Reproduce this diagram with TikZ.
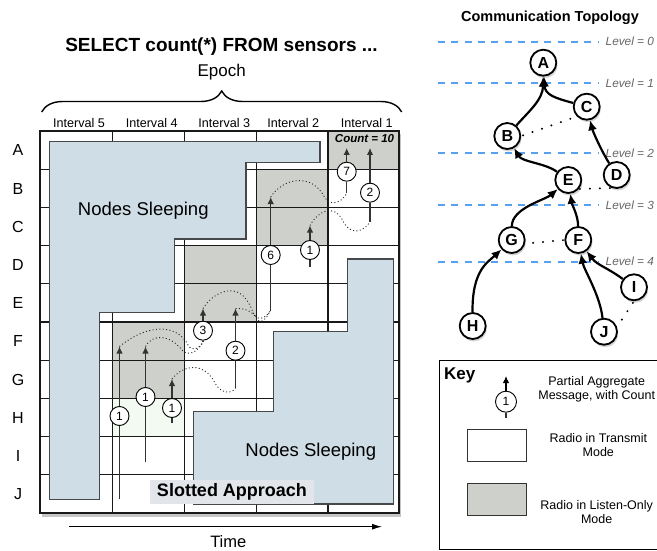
\documentclass[tikz,border=0pt]{standalone}
\usepackage{fontspec}
\setmainfont{Liberation Sans}
\usepackage{tikz}
\usetikzlibrary{arrows.meta, positioning, calc, decorations.pathreplacing, shadows}
\definecolor{sleepblue}{RGB}{207,221,231}
\definecolor{listengray}{RGB}{205,208,203}
\definecolor{txtint}{RGB}{243,250,242}
\definecolor{levelblue}{RGB}{88,160,240}
\definecolor{zoneedge}{RGB}{70,72,76}
\definecolor{slotbg}{RGB}{226,230,234}
\newcommand{\pxfont}[1]{\fontsize{#1}{#1}\selectfont}
\tikzset{
  cellline/.style={line width=1.2pt, color=black!90},
  sleepzone/.style={fill=sleepblue, draw=zoneedge, line width=1.1pt},
  listencell/.style={fill=listengray},
  msgcirc/.style={circle, draw=black, fill=white, line width=0.9pt,
    minimum size=19pt, inner sep=0pt, font=\pxfont{12}},
  msgarrow/.style={-{Latex[length=7pt, width=6.5pt]}, line width=1.1pt, color=black!80},
  msgline/.style={line width=1.1pt, color=black!80},
  hop/.style={dash pattern=on 1pt off 2.4pt, line width=0.9pt, color=black!85},
  treenode/.style={circle, draw=black, fill=white, line width=1.8pt,
    minimum size=26pt, inner sep=0pt, font=\pxfont{16}\bfseries,
    drop shadow={shadow xshift=1.2pt, shadow yshift=-2.5pt, opacity=0.35}},
  treeedge/.style={-{Latex[length=10pt, width=9pt]}, line width=2.2pt},
  sibling/.style={line width=2.2pt, dash pattern=on 0pt off 10pt, line cap=round},
  levelline/.style={levelblue, line width=2.2pt, dash pattern=on 7pt off 6.3pt},
  levellabel/.style={anchor=base west, font=\pxfont{11.8}\itshape, text=black!60, inner sep=0pt},
  intlabel/.style={anchor=base, font=\pxfont{12.6}, inner sep=0pt},
  rowlabel/.style={anchor=base, font=\pxfont{16}, inner sep=0pt},
  keytext/.style={align=center, font=\fontsize{12.5}{14}\selectfont, inner sep=0pt},
  keybox/.style={draw=black!80, line width=0.9pt, minimum width=58.7pt,
    minimum height=31.7pt, inner sep=0pt}
}

\begin{document}
\begin{tikzpicture}[x=1pt, y=-1pt]
  \useasboundingbox (0,0) rectangle (657,551);

  % Query, epoch and intervals
  \node[anchor=base, font=\pxfont{19}\bfseries, inner sep=0pt] (query) at (221.5,51.8) {SELECT count(*) FROM sensors ...};
  \node[anchor=base, font=\pxfont{17}, inner sep=0pt] (epoch) at (221.7,76.5) {Epoch};
  \draw[line width=1.4pt, decorate, decoration={brace, amplitude=21pt}] (41.7,112) -- (401.7,112);
  \foreach \n/\x in {5/79, 4/151.7, 3/224.3, 2/293.3, 1/366.7}
    \node[intlabel] (int\n) at (\x,127.2) {Interval \n};

  % Grid of nodes over time
  \fill[white, drop shadow={shadow xshift=2pt, shadow yshift=-3.5pt, opacity=0.45}] (40,131) rectangle (399,513);
  \fill[listencell] (328,131) rectangle (399,169.2);
  \fill[listencell] (256.5,169.2) rectangle (328,245.6);
  \fill[listencell] (184.5,245.6) rectangle (256.5,322);
  \fill[listencell] (112.5,322) rectangle (184.5,398.4);
  \fill[txtint] (112.5,398.4) rectangle (184.5,436.6);
  \foreach \r in {1,...,9}
    \draw[cellline] (40,{131+38.2*\r}) -- (399,{131+38.2*\r});
  \foreach \x in {112.5, 184.5, 256.5, 328}
    \draw[cellline] (\x,131) -- (\x,513);
  \draw[cellline, line width=1.5pt] (40,131) rectangle (399,513);
  \foreach \l [count=\i] in {A,...,J}
    \node[rowlabel] (row\l) at (18,{131+38.2*(\i-0.5)+5.7}) {\l};

  % Sleeping regions
  \draw[sleepzone] (49.3,141.7) -- (320,141.7) -- (320,162.7) -- (246,162.7) -- (246,239)
    -- (174.3,239) -- (174.3,312.7) -- (99.3,312.7) -- (99.3,499.3) -- (49.3,499.3) -- cycle;
  \draw[sleepzone] (347.7,259) -- (393.5,259) -- (393.5,504) -- (193.3,504) -- (193.3,411.7)
    -- (273.3,411.7) -- (273.3,331.7) -- (347.7,331.7) -- cycle;
  \node[anchor=base, font=\pxfont{18.5}, inner sep=0pt] (sleep1) at (143.3,215) {Nodes Sleeping};
  \node[anchor=base, font=\pxfont{18.5}, inner sep=0pt] (sleep2) at (310.8,456.7) {Nodes Sleeping};
  \node[anchor=base, font=\pxfont{18}\bfseries, fill=slotbg, inner xsep=7pt, inner ysep=3.5pt] (slotted) at (232,496.7) {Slotted Approach};

  % Message ends
  \coordinate (m11tip) at (346.7,148);  \coordinate (m11tail) at (346.7,193);
  \coordinate (m12tip) at (370,148);    \coordinate (m12tail) at (370,221.7);
  \coordinate (m21tip) at (270.7,197);  \coordinate (m21tail) at (270.7,310);
  \coordinate (m22tip) at (310,225.5);  \coordinate (m22tail) at (310,266.7);
  \coordinate (m31tip) at (203,308.5);  \coordinate (m31tail) at (203,342);
  \coordinate (m32tip) at (235.5,308.5); \coordinate (m32tail) at (235.5,388);
  \coordinate (m41tip) at (119.5,346.5); \coordinate (m41tail) at (119.5,499);
  \coordinate (m42tip) at (145.5,346.5); \coordinate (m42tail) at (145.5,462);
  \coordinate (m43tip) at (172,379);    \coordinate (m43tail) at (172,423);

  % Hops from child to parent
  \draw[hop] (m41tip) .. controls (150,322) and (178,325) .. (188,345) .. controls (192,352) and (199,349) .. (m31tail);
  \draw[hop] (m42tip) .. controls (153,333) and (170,335) .. (182,350) .. controls (188,357) and (198,352) .. (m31tail);
  \draw[hop] (m43tip) .. controls (182,366) and (203,360) .. (215,383) .. controls (220,393) and (231,395) .. (m32tail);
  \draw[hop] (m31tip) .. controls (213,292) and (240,278) .. (252,310) .. controls (256,322) and (265,320) .. (m21tail);
  \draw[hop] (m32tip) .. controls (246,308) and (253,312) .. (257,319) .. controls (261,325) and (267,318) .. (m21tail);
  \draw[hop] (m21tip) .. controls (283,178) and (312,172) .. (325,198) .. controls (331,207) and (343,202) .. (m11tail);
  \draw[hop] (m22tip) .. controls (318,211) and (334,203) .. (343,221) .. controls (350,236) and (364,232) .. (m12tail);

  % Partial aggregates
  \node[msgcirc] (m11) at (346.7,171.7) {7};
  \node[msgcirc] (m12) at (370,192.7) {2};
  \node[msgcirc] (m21) at (270.7,255) {6};
  \node[msgcirc] (m22) at (310,250) {1};
  \node[msgcirc] (m31) at (203,330.7) {3};
  \node[msgcirc] (m32) at (235.5,350.7) {2};
  \node[msgcirc] (m41) at (119.5,416) {1};
  \node[msgcirc] (m42) at (145.5,397) {1};
  \node[msgcirc] (m43) at (172,408) {1};
  \foreach \m in {m11, m12, m21, m22, m31, m32, m41, m42, m43} {
    \draw[msgarrow] (\m) -- (\m tip);
    \draw[msgline] (\m tail) -- (\m);
  }
  \node[anchor=base, font=\pxfont{11.5}\bfseries\itshape, inner sep=0pt] (count) at (364.5,142.4) {Count = 10};

  % Time axis
  \coordinate (tstart) at (69.3,526.7);
  \coordinate (tend) at (382,526.7);
  \draw[-{Latex[length=10pt, width=6pt]}, line width=1.1pt] (tstart) -- (tend);
  \node[anchor=base, font=\pxfont{16.5}, inner sep=0pt] (timelbl) at (228.3,547.5) {Time};

  % Communication topology
  \node[anchor=base, font=\pxfont{14.5}\bfseries, inner sep=0pt] (topo) at (550,21.7) {Communication Topology};
  \foreach \l/\y in {0/41.7, 1/83.3, 2/153.3, 3/205, 4/261.7} {
    \draw[levelline] (438,\y) -- (598,\y);
    \node[levellabel] (lvl\l) at (605.5,{\y+4}) {Level = \l};
  }
  \node[treenode] (A) at (543.3,62.7) {A};
  \node[treenode] (B) at (507.3,136) {B};
  \node[treenode] (C) at (586.7,106.7) {C};
  \node[treenode] (D) at (616.7,175) {D};
  \node[treenode] (E) at (568.3,180) {E};
  \node[treenode] (F) at (578.3,240) {F};
  \node[treenode] (G) at (511.7,240) {G};
  \node[treenode] (H) at (472.7,326) {H};
  \node[treenode] (I) at (634,287.3) {I};
  \node[treenode] (J) at (604,331.7) {J};
  \draw[treeedge] (B) .. controls (528,112) and (543,100) .. (A);
  \draw[treeedge] (C) .. controls (555,98) and (545,95) .. (A);
  \draw[treeedge] (D) .. controls (602,152) and (593,132) .. (C);
  \draw[treeedge] (E) .. controls (545,163) and (522,162) .. (B);
  \draw[treeedge] (G) .. controls (512,208) and (545,200) .. (E);
  \draw[treeedge] (F) .. controls (578,215) and (572,205) .. (E);
  \draw[treeedge] (H) .. controls (472,270) and (488,262) .. (G);
  \draw[treeedge] (J) .. controls (600,295) and (584,270) .. (F);
  \draw[treeedge] (I) .. controls (608,268) and (597,265) .. (F);
  \draw[sibling, shorten <=2pt, shorten >=2pt] (B.east) -- (C.225);
  \draw[sibling, shorten <=1pt, shorten >=1pt] (E.-40) -- (D.250);
  \draw[sibling, shorten <=8pt, shorten >=1pt] (G.-15) -- (F.west);
  \draw[sibling, shorten <=2pt, shorten >=2pt] (I.south) -- (J.20);

  % Key
  \draw[line width=1.2pt] (657,360.7) -- (439.3,360.7) -- (439.3,549.5) -- (657,549.5);
  \node[anchor=base west, font=\pxfont{17}\bfseries, inner sep=0pt] (keyttl) at (444,379.3) {Key};
  \coordinate (keytip) at (506,376);
  \coordinate (keytail) at (506,418);
  \node[msgcirc, minimum size=21pt] (keymsg) at (506,401.7) {1};
  \draw[msgarrow, color=black] (keymsg) -- (keytip);
  \draw[msgline] (keytail) -- (keymsg);
  \node[keytext] (keymsgtext) at (596.7,389.5) {Partial Aggregate\\Message, with Count};
  \node[keybox, fill=white] (keytx) at (496.7,445.2) {};
  \node[keytext] (keytxtext) at (598.3,444.7) {Radio in Transmit\\Mode};
  \node[keybox, fill=listengray] (keylisten) at (496.7,499.5) {};
  \node[keytext] (keylistentext) at (596.7,512.5) {Radio in Listen-Only\\Mode};
\end{tikzpicture}
\end{document}
